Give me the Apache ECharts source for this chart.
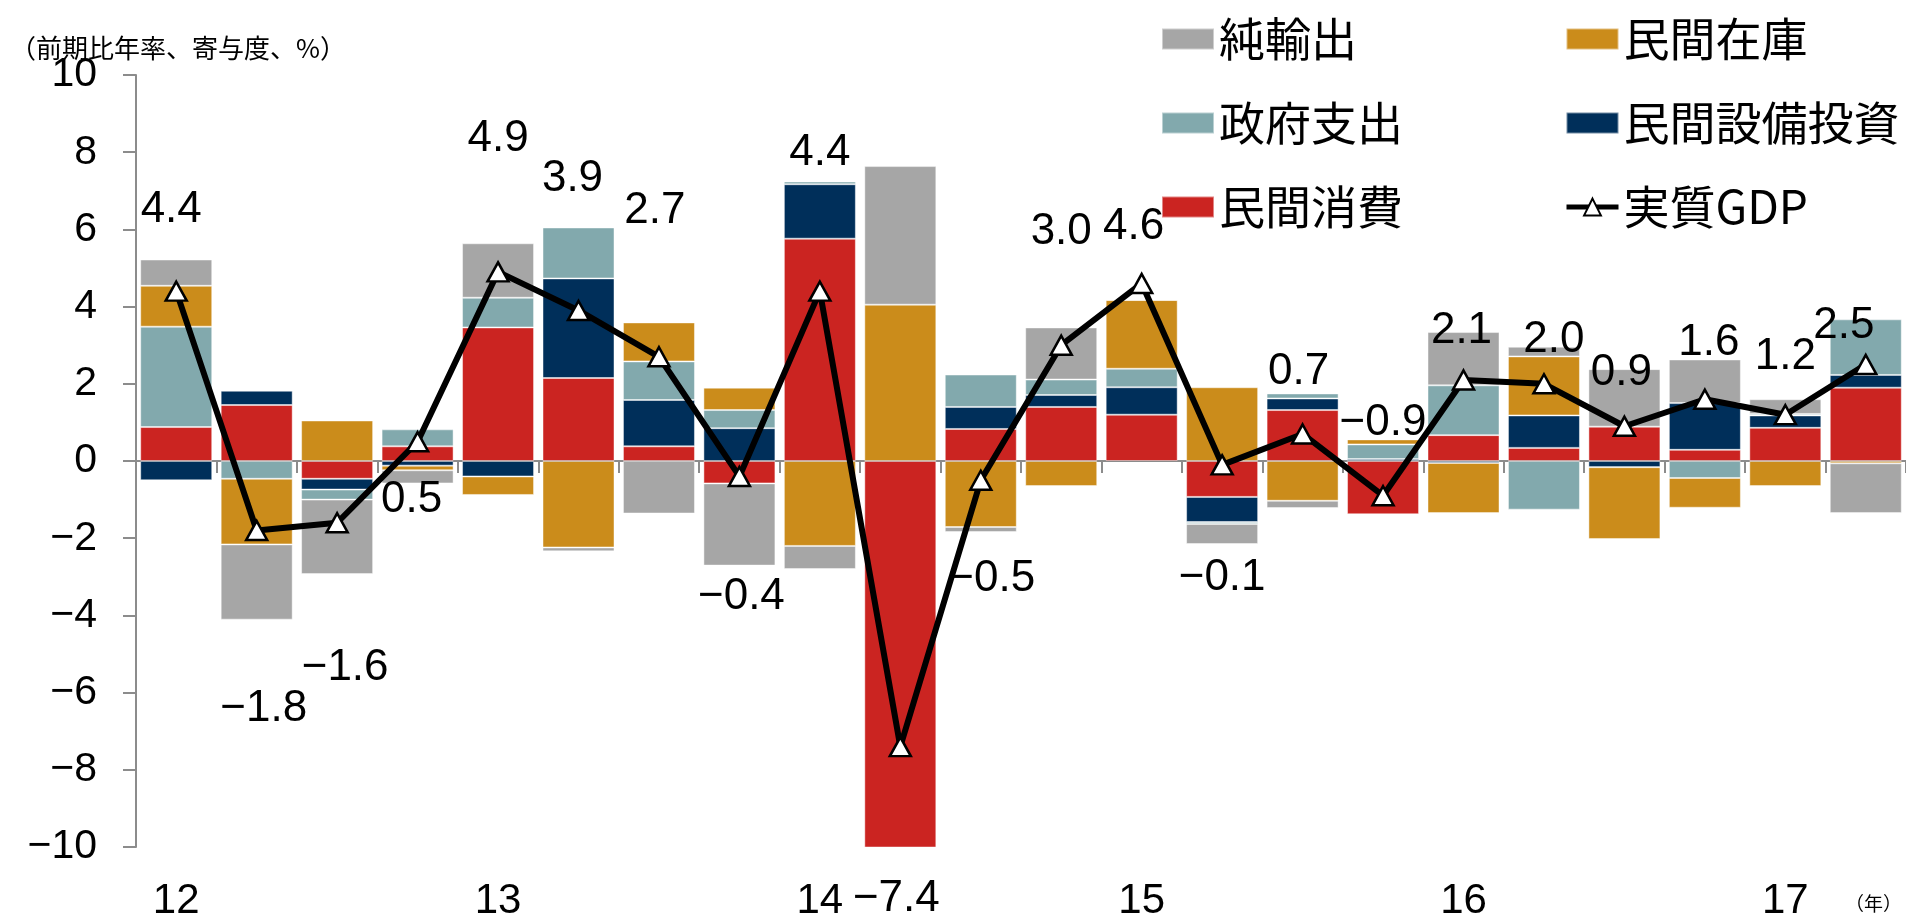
<!DOCTYPE html>
<html>
<head>
<meta charset="utf-8">
<script src="https://cdn.jsdelivr.net/npm/echarts@6/dist/echarts.min.js"></script>
<style>
html,body{margin:0;padding:0;background:#fff;}
#chart{width:1906px;height:922px;}
</style>
</head>
<body>
<div id="chart"></div>
<script>
// ---- data ----
const categories = ['12Q1','12Q2','12Q3','12Q4','13Q1','13Q2','13Q3','13Q4','14Q1','14Q2','14Q3','14Q4',
                    '15Q1','15Q2','15Q3','15Q4','16Q1','16Q2','16Q3','16Q4','17Q1','17Q2'];
const yearLabels = ['12','13','14','15','16','17'];
const consumption = [0.88, 1.45, -0.46, 0.38, 3.46, 2.15, 0.38, -0.58, 5.76, -12.8, 0.83, 1.40,
                     1.20, -0.93, 1.32, -1.38, 0.67, 0.34, 0.89, 0.29, 0.86, 1.90];
const investment  = [-0.50, 0.37, -0.28, -0.12, -0.40, 2.58, 1.20, 0.85, 1.41, -2.10, 0.57, 0.31,
                     0.71, -0.65, 0.30, 0.05, -0.05, 0.84, -0.16, 1.21, 0.32, 0.33];
const government  = [2.60, -0.46, -0.26, 0.44, 0.77, 1.32, 1.00, 0.47, 0.07, -0.14, 0.84, 0.40,
                     0.48, -0.05, 0.13, 0.38, 1.29, -1.26, 0.00, -0.44, 0.04, 1.44];
const inventory   = [1.06, -1.70, 1.05, -0.12, -0.48, -2.24, 1.01, 0.58, -2.20, 4.05, -1.71, -0.65,
                     1.78, 1.91, -1.03, 0.13, -1.30, 1.53, -1.86, -0.77, -0.65, -0.06];
const netExports  = [0.68, -1.95, -1.93, -0.34, 1.41, -0.10, -1.36, -2.13, -0.60, 3.59, -0.13, 1.35,
                     0.00, -0.52, -0.19, 0.00, 1.38, 0.25, 1.49, 1.13, 0.38, -1.29];
const realGDP     = [4.4, -1.8, -1.6, 0.5, 4.9, 3.9, 2.7, -0.4, 4.4, -7.4, -0.5, 3.0,
                     4.6, -0.1, 0.7, -0.9, 2.1, 2.0, 0.9, 1.6, 1.2, 2.5];
const yTicks = [-10, -8, -6, -4, -2, 0, 2, 4, 6, 8, 10];

// label placement (pixel offsets from each GDP point)
const gdpLabelOffsets = [[-5,-81],[7,178],[8,145],[-6,58],[0,-133],[-6,-132],[-4,-146],[2,120],[0,-138],[-4,152],[11,99],[0,-113],
                         [-8,-57],[0,113],[-4,-62],[0,-73],[-2,-49],[10,-44],[-3,-53],[4,-56],[0,-58],[-22,-39]];

const NUM_FONT = "'Liberation Sans',Arial,sans-serif";
const JP_FONT = "'Noto Sans CJK JP','Noto Sans',sans-serif";
const fmtNum = v => String(v).replace('-', '\u2212');
const fmt1 = v => (v < 0 ? '\u2212' : '') + Math.abs(v).toFixed(1);

const colors = {
  consumption: '#CB2421',
  investment: '#002F5A',
  government: '#82A9AD',
  inventory: '#CB8C1B',
  netExports: '#A6A6A6'
};

function barSeries(name, data, color) {
  return {
    name: name,
    type: 'bar',
    stack: 'total',
    xAxisIndex: 0,
    yAxisIndex: 0,
    barWidth: 72,
    data: data,
    itemStyle: { color: color, borderColor: 'rgba(255,255,255,0.45)', borderWidth: 1 },
    emphasis: { disabled: true },
    z: 2
  };
}

const chart = echarts.init(document.getElementById('chart'), null, { renderer: 'canvas' });

const option = {
  animation: false,
  backgroundColor: '#ffffff',
  grid: { left: 136, top: 75, width: 1778, height: 775, containLabel: false },
  xAxis: [
    {
      type: 'category',
      data: categories,
      position: 'bottom',
      axisLine: { show: true, onZero: true, lineStyle: { color: '#8C8C8C', width: 2 } },
      axisTick: { show: true, length: 12, inside: false, lineStyle: { color: '#8C8C8C', width: 2 } },
      axisLabel: { show: false },
      splitLine: { show: false }
    },
    {
      type: 'category',
      data: categories,
      position: 'bottom',
      axisLine: { show: false, onZero: false },
      axisTick: { show: false },
      splitLine: { show: false },
      axisLabel: {
        show: true,
        interval: 0,
        margin: 33,
        fontFamily: NUM_FONT,
        fontSize: 42,
        color: '#000',
        formatter: (v, i) => (i % 4 === 0 ? yearLabels[i / 4] : '')
      }
    }
  ],
  yAxis: {
    type: 'value',
    min: yTicks[0],
    max: yTicks[yTicks.length - 1],
    interval: 2,
    axisLine: { show: true, lineStyle: { color: '#8C8C8C', width: 2 } },
    axisTick: { show: true, length: 13, inside: false, lineStyle: { color: '#8C8C8C', width: 2 } },
    splitLine: { show: false },
    axisLabel: {
      margin: 39,
      fontFamily: NUM_FONT,
      fontSize: 41,
      color: '#000',
      formatter: v => fmtNum(v)
    }
  },
  legend: [
    {
      left: 1156, top: 9, orient: 'vertical',
      itemWidth: 52, itemHeight: 21, itemGap: 34,
      icon: 'rect',
      selectedMode: false,
      textStyle: { fontFamily: JP_FONT, fontSize: 46, color: '#000', lineHeight: 50 },
      data: ['純輸出', '政府支出', '民間消費']
    },
    {
      left: 1559, top: 9, orient: 'vertical',
      itemWidth: 52, itemHeight: 21, itemGap: 34,
      selectedMode: false,
      lineStyle: { width: 5, color: '#000' },
      textStyle: { fontFamily: JP_FONT, fontSize: 46, color: '#000', lineHeight: 50 },
      data: [{ name: '民間在庫', icon: 'rect' }, { name: '民間設備投資', icon: 'rect' },
             { name: '実質GDP', itemStyle: { color: '#fff', borderColor: '#000', borderWidth: 2 }, lineStyle: { width: 5, color: '#000' } }]
    }
  ],
  graphic: [
    {
      type: 'text', left: 10, top: 35, z: 10,
      style: { text: '（前期比年率、寄与度、%）', font: "26px 'Noto Sans CJK JP'", fill: '#000' }
    },
    {
      type: 'text', left: 1845, top: 894, z: 10,
      style: { text: '（年）', font: "19px 'Noto Sans CJK JP'", fill: '#000' }
    }
  ],
  series: [
    barSeries('民間消費', consumption, colors.consumption),
    barSeries('民間設備投資', investment, colors.investment),
    barSeries('政府支出', government, colors.government),
    barSeries('民間在庫', inventory, colors.inventory),
    barSeries('純輸出', netExports, colors.netExports),
    {
      name: '実質GDP',
      type: 'line',
      xAxisIndex: 0,
      yAxisIndex: 0,
      z: 5,
      symbol: 'triangle',
      symbolSize: [21, 19],
      lineStyle: { color: '#000', width: 6 },
      itemStyle: { color: '#fff', borderColor: '#000', borderWidth: 2.5 },
      emphasis: { disabled: true },
      label: {
        show: true,
        position: 'inside',
        align: 'center',
        verticalAlign: 'middle',
        fontFamily: NUM_FONT,
        fontSize: 44,
        color: '#000',
        formatter: p => fmt1(p.value)
      },
      data: realGDP.map((v, i) => ({ value: v, label: { offset: gdpLabelOffsets[i] } }))
    }
  ]
};

chart.setOption(option);
</script>
</body>
</html>
